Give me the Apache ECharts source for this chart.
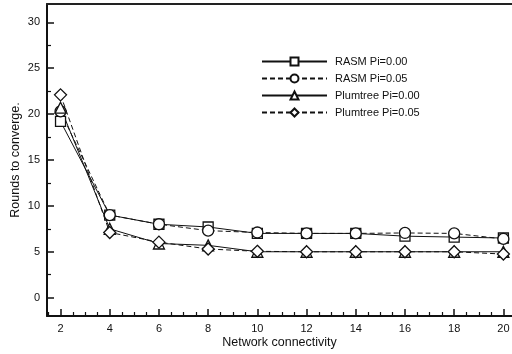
<!DOCTYPE html>
<html><head><meta charset="utf-8">
<script src="https://cdn.jsdelivr.net/npm/echarts@6/dist/echarts.min.js"></script>
<style>html,body{margin:0;padding:0;background:#fff}#c{width:512px;height:354px}</style>
</head><body><div id="c"></div>
<script>
const connectivity = [2, 4, 6, 8, 10, 12, 14, 16, 18, 20];
const rasm000 = [19.2, 9.0, 8.0, 7.7, 7.0, 7.0, 7.0, 6.7, 6.6, 6.5];
const rasm005 = [20.3, 9.0, 8.0, 7.3, 7.1, 7.0, 7.0, 7.05, 7.0, 6.4];
const plum000 = [20.7, 7.5, 5.9, 5.7, 5.0, 5.0, 5.0, 5.0, 5.0, 5.0];
const plum005 = [22.1, 7.1, 6.05, 5.3, 5.05, 5.0, 5.0, 5.0, 5.0, 4.75];
const seriesNames = ['RASM Pi=0.00', 'RASM Pi=0.05', 'Plumtree Pi=0.00', 'Plumtree Pi=0.05'];
const xMajorTicks = [2, 4, 6, 8, 10, 12, 14, 16, 18, 20];
const xMinorTicks = [1.5, 2.5, 3, 3.5, 4.5, 5, 5.5, 6.5, 7, 7.5, 8.5, 9, 9.5, 10.5, 11, 11.5, 12.5, 13, 13.5, 14.5, 15, 15.5, 16.5, 17, 17.5, 18.5, 19, 19.5];
const yMajorTicks = [0, 5, 10, 15, 20, 25, 30];
const yMinorTicks = [2.5, 7.5, 12.5, 17.5, 22.5, 27.5];

const FONT = 'Liberation Sans, Arial, Helvetica, sans-serif';
const INK = '#111';
const XMIN = 1.45, XMAX = 20.35, YMIN = -2, YMAX = 32;
const GRID = { left: 47, top: 4, right: 0, bottom: 38, containLabel: false, outerBoundsMode: 'none' };

function pairs(vals) { return connectivity.map((x, i) => [x, vals[i]]); }
function mk(name, vals, symbol, size, dashed) {
  return {
    name, type: 'line', xAxisIndex: 0, yAxisIndex: 0,
    data: pairs(vals), symbol, symbolSize: size, showAllSymbol: true,
    lineStyle: { color: INK, width: 1, type: dashed ? [5, 3] : 'solid' },
    itemStyle: { color: '#fff', borderColor: INK, borderWidth: 1.3 },
    emphasis: { disabled: true }, animation: false, z: 3
  };
}
const chart = echarts.init(document.getElementById('c'), null, { renderer: 'canvas' });
chart.setOption({
  animation: false,
  backgroundColor: '#fff',
  textStyle: { fontFamily: FONT },
  grid: [Object.assign({}, GRID), Object.assign({}, GRID)],
  legend: {
    orient: 'vertical', left: 256, top: 51, itemWidth: 65, itemHeight: 10, itemGap: 6,
    textStyle: { fontFamily: FONT, fontSize: 11, color: INK, padding: [0, 0, 0, 3] },
    data: seriesNames
  },
  xAxis: [
    { type: 'value', gridIndex: 0, min: XMIN, max: XMAX, position: 'bottom',
      name: 'Network connectivity', nameLocation: 'middle', nameGap: 20, nameMoveOverlap: false,
      nameTextStyle: { fontFamily: FONT, fontSize: 12.5, color: INK },
      axisLine: { show: true, onZero: false, lineStyle: { color: INK, width: 2 } },
      axisTick: { show: true, inside: true, length: 7, customValues: xMajorTicks, lineStyle: { color: INK, width: 1.5 } },
      axisLabel: { customValues: xMajorTicks, margin: 7, fontFamily: FONT, fontSize: 11, color: INK },
      splitLine: { show: false } },
    { type: 'value', gridIndex: 1, min: XMIN, max: XMAX, position: 'bottom',
      axisLine: { show: false, onZero: false },
      axisTick: { show: true, inside: true, length: 4, customValues: xMinorTicks, lineStyle: { color: INK, width: 1.2 } },
      axisLabel: { show: false }, splitLine: { show: false } },
    { type: 'value', gridIndex: 1, min: XMIN, max: XMAX, position: 'top',
      axisLine: { show: true, onZero: false, lineStyle: { color: '#222', width: 2 } },
      axisTick: { show: false }, axisLabel: { show: false }, splitLine: { show: false } }
  ],
  yAxis: [
    { type: 'value', gridIndex: 0, min: YMIN, max: YMAX, position: 'left',
      name: 'Rounds to converge.', nameLocation: 'middle', nameGap: 25, nameMoveOverlap: false,
      nameTextStyle: { fontFamily: FONT, fontSize: 12.5, color: INK },
      axisLine: { show: true, onZero: false, lineStyle: { color: INK, width: 2 } },
      axisTick: { show: true, inside: true, length: 7, customValues: yMajorTicks, lineStyle: { color: INK, width: 1.5 } },
      axisLabel: { customValues: yMajorTicks, margin: 7, fontFamily: FONT, fontSize: 11, color: INK },
      splitLine: { show: false } },
    { type: 'value', gridIndex: 1, min: YMIN, max: YMAX, position: 'left',
      axisLine: { show: false, onZero: false },
      axisTick: { show: true, inside: true, length: 4, customValues: yMinorTicks, lineStyle: { color: INK, width: 1.2 } },
      axisLabel: { show: false }, splitLine: { show: false } }
  ],
  series: [
    mk(seriesNames[0], rasm000, 'rect', 10, false),
    mk(seriesNames[1], rasm005, 'circle', 11, true),
    mk(seriesNames[2], plum000, 'triangle', 11, false),
    mk(seriesNames[3], plum005, 'diamond', 12, true)
  ]
});
</script></body></html>
